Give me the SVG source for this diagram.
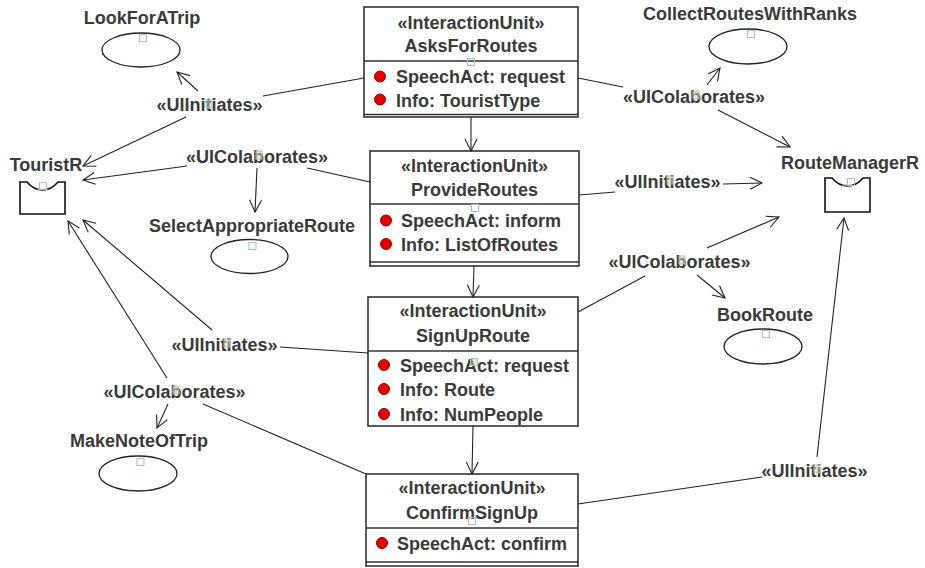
<svg xmlns="http://www.w3.org/2000/svg" width="925" height="568" viewBox="0 0 925 568">
  <defs>
    <marker id="open" viewBox="0 0 14 14" refX="13" refY="7" markerWidth="14" markerHeight="14" markerUnits="userSpaceOnUse" orient="auto">
      <path d="M1,1 L13,7 L1,13" fill="none" stroke="#222" stroke-width="1.1"/>
    </marker>
    <style>
      text { font-family: "Liberation Sans", Arial, sans-serif; font-weight: bold; font-size: 18px; fill: #3a3a3a; }
      .c { text-anchor: middle; }
      .box { fill: #fff; stroke: #333; stroke-width: 1.6; }
      .div { stroke: #333; stroke-width: 1.6; }
      .uc { fill: #fff; stroke: #222; stroke-width: 1.3; }
      .actor { fill: #fff; stroke: #111; stroke-width: 1.6; }
      .h { fill: none; stroke: #a9bcd6; stroke-width: 1.1; }
      .hl { fill: #cfd88a; fill-opacity: 0.5; stroke: #a9bcd6; stroke-width: 1; }
      .dot { fill: #e80000; stroke: #8a0000; stroke-width: 1; }
      .ln { fill: none; stroke: #222; stroke-width: 1.1; }
      .ar { fill: none; stroke: #222; stroke-width: 1.1; marker-end: url(#open); }
    </style>
  </defs>
  <rect width="925" height="568" fill="#fff"/>

  <!-- actors -->
  <g id="TouristR">
    <text class="c" x="46" y="171">TouristR</text>
    <path class="actor" d="M20,182 H27 C32,188 36,190 42.5,190 C49,190 53,188 58,182 H65 V214 H20 Z"/>
    <path d="M37,189.4 H48" stroke="#8a6a4a" stroke-width="1.2"/>
    <rect class="h" x="39.5" y="182.5" width="7" height="7"/>
  </g>
  <g id="RouteManagerR">
    <text class="c" x="850" y="169">RouteManagerR</text>
    <path class="actor" d="M825,178 H832 C837,184 841,186 847.5,186 C854,186 858,184 863,178 H870 V212 H825 Z"/>
    <path d="M842,185.4 H853" stroke="#8a6a4a" stroke-width="1.2"/>
    <rect class="h" x="847.5" y="178.5" width="7" height="7"/>
  </g>

  <!-- use cases -->
  <g id="LookForATrip">
    <text class="c" x="142" y="24">LookForATrip</text>
    <ellipse class="uc" cx="141" cy="50" rx="39" ry="17"/>
    <rect class="h" x="139.5" y="34.5" width="7" height="7"/>
  </g>
  <g id="SelectAppropriateRoute">
    <text class="c" x="252" y="232">SelectAppropriateRoute</text>
    <ellipse class="uc" cx="249.5" cy="256.5" rx="38.5" ry="17"/>
    <rect class="h" x="249" y="242.5" width="7" height="7"/>
  </g>
  <g id="MakeNoteOfTrip">
    <text class="c" x="139" y="447">MakeNoteOfTrip</text>
    <ellipse class="uc" cx="138" cy="473.5" rx="39" ry="17.5"/>
    <rect class="h" x="137" y="458.5" width="7" height="7"/>
  </g>
  <g id="CollectRoutesWithRanks">
    <text class="c" x="750" y="20">CollectRoutesWithRanks</text>
    <ellipse class="uc" cx="748" cy="46.5" rx="39" ry="17.5"/>
    <rect class="h" x="747.5" y="30.5" width="7" height="7"/>
  </g>
  <g id="BookRoute">
    <text class="c" x="765" y="321">BookRoute</text>
    <ellipse class="uc" cx="763" cy="346.5" rx="39" ry="17.5"/>
    <rect class="h" x="762.5" y="330.5" width="7" height="7"/>
  </g>

  <!-- interaction units -->
  <g id="AsksForRoutes">
    <rect class="box" x="364" y="7" width="214" height="110"/>
    <line class="div" x1="364" y1="61" x2="578" y2="61"/>
    <line class="div" x1="364" y1="114.5" x2="578" y2="114.5"/>
    <text class="c" x="471" y="29">«InteractionUnit»</text>
    <text class="c" x="471" y="52">AsksForRoutes</text>
    <circle class="dot" cx="380" cy="76.5" r="5.5"/>
    <text x="396" y="83">SpeechAct: request</text>
    <circle class="dot" cx="380" cy="99.5" r="5.5"/>
    <text x="396" y="107">Info: TouristType</text>
    <rect class="h" x="467.5" y="58.5" width="7" height="7"/>
  </g>
  <g id="ProvideRoutes">
    <rect class="box" x="370" y="151" width="209" height="115"/>
    <line class="div" x1="370" y1="204" x2="579" y2="204"/>
    <line class="div" x1="370" y1="262" x2="579" y2="262"/>
    <text class="c" x="474.5" y="172">«InteractionUnit»</text>
    <text class="c" x="474.5" y="196">ProvideRoutes</text>
    <circle class="dot" cx="386" cy="220.5" r="5.5"/>
    <text x="401" y="227">SpeechAct: inform</text>
    <circle class="dot" cx="386" cy="244" r="5.5"/>
    <text x="401" y="251">Info: ListOfRoutes</text>
    <rect class="h" x="471.5" y="204.5" width="7" height="7"/>
  </g>
  <g id="SignUpRoute">
    <rect class="box" x="368" y="297" width="210" height="129"/>
    <line class="div" x1="368" y1="351" x2="578" y2="351"/>
    <text class="c" x="473" y="317">«InteractionUnit»</text>
    <text class="c" x="473" y="342">SignUpRoute</text>
    <circle class="dot" cx="384" cy="365" r="5.5"/>
    <text x="400" y="372">SpeechAct: request</text>
    <circle class="dot" cx="384" cy="389" r="5.5"/>
    <text x="400" y="396">Info: Route</text>
    <circle class="dot" cx="384" cy="414" r="5.5"/>
    <text x="400" y="421">Info: NumPeople</text>
    <rect class="hl" x="470.5" y="358.5" width="7" height="7"/>
  </g>
  <g id="ConfirmSignUp">
    <rect class="box" x="366" y="474" width="212" height="92"/>
    <line class="div" x1="366" y1="528" x2="578" y2="528"/>
    <line class="div" x1="366" y1="562" x2="578" y2="562"/>
    <text class="c" x="472" y="494">«InteractionUnit»</text>
    <text class="c" x="472" y="519">ConfirmSignUp</text>
    <circle class="dot" cx="382" cy="543" r="5.5"/>
    <text x="397" y="550">SpeechAct: confirm</text>
    <rect class="h" x="468.5" y="517.5" width="7" height="7"/>
  </g>

  <!-- connectors and their stereotype labels -->
  <g id="connectors">
    <!-- navigation between interaction units -->
    <line class="ar" x1="471" y1="117" x2="471" y2="151"/>
    <line class="ar" x1="474" y1="266" x2="473" y2="297"/>
    <line class="ar" x1="473" y1="426" x2="472" y2="474"/>

    <!-- AsksForRoutes -> TouristR / LookForATrip -->
    <line class="ln" x1="364" y1="78" x2="263" y2="96"/>
    <line class="ar" x1="198" y1="91" x2="177" y2="72"/>
    <line class="ar" x1="186" y1="117" x2="83" y2="166"/>
    <text class="c" x="209.5" y="111">«UIInitiates»</text>
    <rect class="hl" x="206" y="100" width="6" height="8"/>

    <!-- ProvideRoutes -> TouristR / SelectAppropriateRoute -->
    <line class="ln" x1="370" y1="182" x2="307" y2="168"/>
    <line class="ar" x1="187" y1="166" x2="83" y2="180"/>
    <line class="ar" x1="257" y1="168" x2="255" y2="212"/>
    <text class="c" x="257" y="163">«UIColaborates»</text>
    <rect class="hl" x="256" y="151" width="6" height="8"/>

    <!-- SignUpRoute -> TouristR -->
    <line class="ln" x1="368" y1="353" x2="280" y2="347"/>
    <line class="ar" x1="212" y1="330" x2="83" y2="220"/>
    <text class="c" x="224.5" y="351">«UIInitiates»</text>
    <rect class="hl" x="224" y="339" width="6" height="8"/>

    <!-- ConfirmSignUp -> TouristR / MakeNoteOfTrip -->
    <line class="ln" x1="366" y1="474" x2="203" y2="404"/>
    <line class="ar" x1="167" y1="378" x2="68" y2="221"/>
    <line class="ar" x1="168" y1="404" x2="157" y2="428"/>
    <text class="c" x="174.5" y="398">«UIColaborates»</text>
    <rect class="hl" x="173" y="386" width="6" height="8"/>

    <!-- AsksForRoutes -> RouteManagerR / CollectRoutesWithRanks -->
    <line class="ln" x1="578" y1="78" x2="623" y2="87"/>
    <line class="ar" x1="707" y1="85" x2="720" y2="68"/>
    <line class="ar" x1="718" y1="110" x2="790" y2="147"/>
    <text class="c" x="694" y="103">«UIColaborates»</text>
    <rect class="hl" x="693" y="91" width="6" height="8"/>

    <!-- ProvideRoutes -> RouteManagerR -->
    <line class="ln" x1="579" y1="195" x2="615" y2="192"/>
    <line class="ar" x1="723" y1="184" x2="762" y2="183"/>
    <text class="c" x="667.5" y="188">«UIInitiates»</text>
    <rect class="hl" x="667" y="176" width="6" height="8"/>

    <!-- SignUpRoute -> RouteManagerR / BookRoute -->
    <line class="ln" x1="578" y1="312" x2="645" y2="276"/>
    <line class="ar" x1="707" y1="248" x2="779" y2="217"/>
    <line class="ar" x1="697" y1="275" x2="725" y2="298"/>
    <text class="c" x="679.5" y="268">«UIColaborates»</text>
    <rect class="hl" x="679" y="256" width="6" height="8"/>

    <!-- ConfirmSignUp -> RouteManagerR -->
    <line class="ln" x1="578" y1="504" x2="762" y2="477"/>
    <line class="ar" x1="817" y1="457" x2="844" y2="218"/>
    <text class="c" x="814.5" y="477">«UIInitiates»</text>
    <rect class="hl" x="814" y="465" width="6" height="8"/>
  </g>
</svg>
